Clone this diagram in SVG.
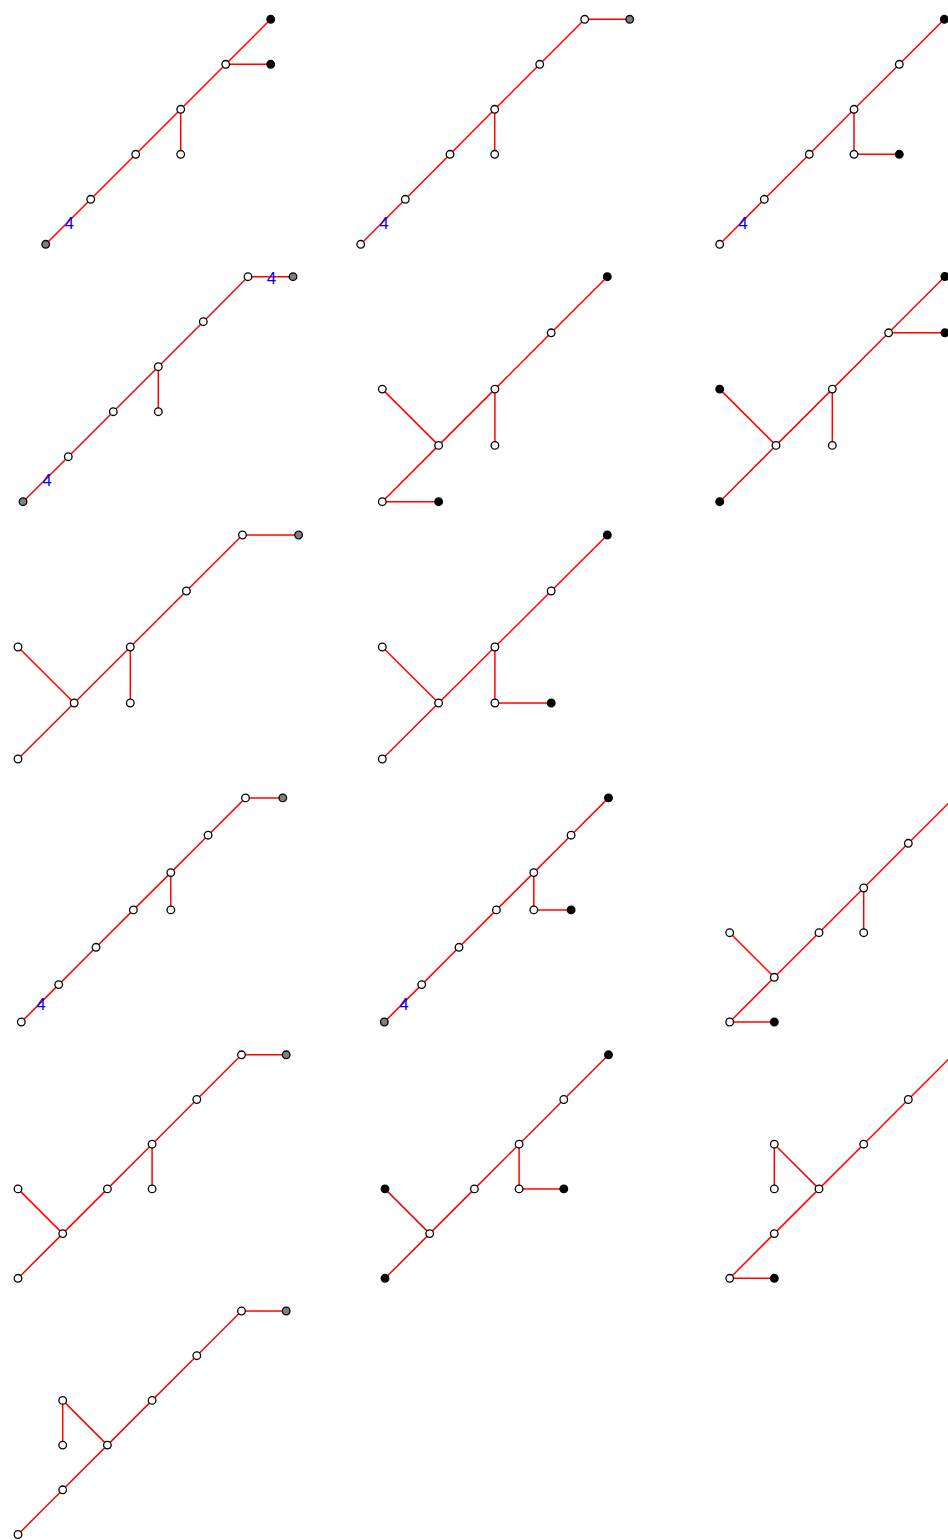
<svg xmlns="http://www.w3.org/2000/svg" width="948" height="1540" viewBox="0 0 948 1540">
<style>
line{stroke:#ff0000;stroke-width:1.5;fill:none}
circle{r:3.8px;stroke:#000;stroke-width:1.3}
.w{fill:#fff}
.b{fill:#000}
.g{fill:#808080}
text{font-family:"Liberation Sans",Arial,sans-serif;font-size:17px;fill:#0000ff;text-anchor:middle;dominant-baseline:central}
</style>
<rect width="948" height="1540" fill="#fff"/>

<g id="d1">
<g id="d1-edges">
<line x1="45.7" y1="244.3" x2="90.7" y2="199.3"/><line x1="90.7" y1="199.3" x2="135.7" y2="154.3"/><line x1="135.7" y1="154.3" x2="180.7" y2="109.3"/><line x1="180.7" y1="109.3" x2="180.7" y2="154.3"/><line x1="180.7" y1="109.3" x2="225.7" y2="64.3"/><line x1="225.7" y1="64.3" x2="270.7" y2="64.3"/><line x1="225.7" y1="64.3" x2="270.7" y2="19.3"/>
</g>
<text x="69.2" y="223.3">4</text>
<circle id="d1-n1" class="g" cx="45.7" cy="244.3"/><circle id="d1-n2" class="w" cx="90.7" cy="199.3"/><circle id="d1-n3" class="w" cx="135.7" cy="154.3"/><circle id="d1-n4" class="w" cx="180.7" cy="109.3"/><circle id="d1-n5" class="w" cx="180.7" cy="154.3"/><circle id="d1-n6" class="w" cx="225.7" cy="64.3"/><circle id="d1-n7" class="b" cx="270.7" cy="64.3"/><circle id="d1-n8" class="b" cx="270.7" cy="19.3"/>
</g>

<g id="d2">
<g id="d2-edges">
<line x1="360.7" y1="244.3" x2="405.3" y2="199.3"/><line x1="405.3" y1="199.3" x2="450" y2="154.3"/><line x1="450" y1="154.3" x2="494.7" y2="109.3"/><line x1="494.7" y1="109.3" x2="494.7" y2="154.3"/><line x1="494.7" y1="109.3" x2="539.7" y2="64.3"/><line x1="539.7" y1="64.3" x2="584.7" y2="19.3"/><line x1="584.7" y1="19.3" x2="629.7" y2="19.3"/>
</g>
<text x="384" y="223.3">4</text>
<circle id="d2-n1" class="w" cx="360.7" cy="244.3"/><circle id="d2-n2" class="w" cx="405.3" cy="199.3"/><circle id="d2-n3" class="w" cx="450" cy="154.3"/><circle id="d2-n4" class="w" cx="494.7" cy="109.3"/><circle id="d2-n5" class="w" cx="494.7" cy="154.3"/><circle id="d2-n6" class="w" cx="539.7" cy="64.3"/><circle id="d2-n7" class="w" cx="584.7" cy="19.3"/><circle id="d2-n8" class="g" cx="629.7" cy="19.3"/>
</g>

<g id="d3">
<g id="d3-edges">
<line x1="719.7" y1="244.3" x2="764.3" y2="199.3"/><line x1="764.3" y1="199.3" x2="809.3" y2="154.3"/><line x1="809.3" y1="154.3" x2="854" y2="109.3"/><line x1="854" y1="109.3" x2="854" y2="154.3"/><line x1="854" y1="154.3" x2="899.3" y2="154.3"/><line x1="854" y1="109.3" x2="899.3" y2="64.3"/><line x1="899.3" y1="64.3" x2="944.3" y2="19.3"/>
</g>
<text x="743" y="223.3">4</text>
<circle id="d3-n1" class="w" cx="719.7" cy="244.3"/><circle id="d3-n2" class="w" cx="764.3" cy="199.3"/><circle id="d3-n3" class="w" cx="809.3" cy="154.3"/><circle id="d3-n4" class="w" cx="854" cy="109.3"/><circle id="d3-n5" class="w" cx="854" cy="154.3"/><circle id="d3-n6" class="b" cx="899.3" cy="154.3"/><circle id="d3-n7" class="w" cx="899.3" cy="64.3"/><circle id="d3-n8" class="b" cx="944.3" cy="19.3"/>
</g>

<g id="d4">
<g id="d4-edges">
<line x1="23" y1="501.7" x2="68.3" y2="456.7"/><line x1="68.3" y1="456.7" x2="113.3" y2="411.7"/><line x1="113.3" y1="411.7" x2="158.3" y2="366.7"/><line x1="158.3" y1="366.7" x2="158.3" y2="411.7"/><line x1="158.3" y1="366.7" x2="203.3" y2="321.7"/><line x1="203.3" y1="321.7" x2="248" y2="276.7"/><line x1="248" y1="276.7" x2="293" y2="276.7"/>
</g>
<text x="47" y="480.7">4</text>
<text x="271.5" y="278">4</text>
<circle id="d4-n1" class="g" cx="23" cy="501.7"/><circle id="d4-n2" class="w" cx="68.3" cy="456.7"/><circle id="d4-n3" class="w" cx="113.3" cy="411.7"/><circle id="d4-n4" class="w" cx="158.3" cy="366.7"/><circle id="d4-n5" class="w" cx="158.3" cy="411.7"/><circle id="d4-n6" class="w" cx="203.3" cy="321.7"/><circle id="d4-n7" class="w" cx="248" cy="276.7"/><circle id="d4-n8" class="g" cx="293" cy="276.7"/>
</g>

<g id="d5">
<g id="d5-edges">
<line x1="382.3" y1="501.7" x2="438.6" y2="501.7"/><line x1="382.3" y1="501.7" x2="438.6" y2="445.4"/><line x1="438.6" y1="445.4" x2="382.3" y2="389.1"/><line x1="438.6" y1="445.4" x2="494.9" y2="389.1"/><line x1="494.9" y1="389.1" x2="494.9" y2="445.4"/><line x1="494.9" y1="389.1" x2="551.2" y2="332.8"/><line x1="551.2" y1="332.8" x2="607.3" y2="276.7"/>
</g>
<circle id="d5-n1" class="w" cx="382.3" cy="501.7"/><circle id="d5-n2" class="b" cx="438.6" cy="501.7"/><circle id="d5-n3" class="w" cx="438.6" cy="445.4"/><circle id="d5-n4" class="w" cx="382.3" cy="389.1"/><circle id="d5-n5" class="w" cx="494.9" cy="389.1"/><circle id="d5-n6" class="w" cx="494.9" cy="445.4"/><circle id="d5-n7" class="w" cx="551.2" cy="332.8"/><circle id="d5-n8" class="b" cx="607.3" cy="276.7"/>
</g>

<g id="d6">
<g id="d6-edges">
<line x1="719.7" y1="501.7" x2="776" y2="445.4"/><line x1="776" y1="445.4" x2="719.7" y2="389.1"/><line x1="776" y1="445.4" x2="832.3" y2="389.1"/><line x1="832.3" y1="389.1" x2="832.3" y2="445.4"/><line x1="832.3" y1="389.1" x2="888.6" y2="332.8"/><line x1="888.6" y1="332.8" x2="944.9" y2="332.8"/><line x1="888.6" y1="332.8" x2="944.9" y2="276.5"/>
</g>
<circle id="d6-n1" class="b" cx="719.7" cy="501.7"/><circle id="d6-n2" class="w" cx="776" cy="445.4"/><circle id="d6-n3" class="b" cx="719.7" cy="389.1"/><circle id="d6-n4" class="w" cx="832.3" cy="389.1"/><circle id="d6-n5" class="w" cx="832.3" cy="445.4"/><circle id="d6-n6" class="w" cx="888.6" cy="332.8"/><circle id="d6-n7" class="b" cx="944.9" cy="332.8"/><circle id="d6-n8" class="b" cx="944.9" cy="276.5"/>
</g>

<g id="d7">
<g id="d7-edges">
<line x1="18" y1="759" x2="74.2" y2="703"/><line x1="74.2" y1="703" x2="18" y2="647"/><line x1="74.2" y1="703" x2="130.3" y2="647"/><line x1="130.3" y1="647" x2="130.3" y2="703"/><line x1="130.3" y1="647" x2="186.4" y2="591"/><line x1="186.4" y1="591" x2="242.5" y2="535"/><line x1="242.5" y1="535" x2="298.6" y2="535"/>
</g>
<circle id="d7-n1" class="w" cx="18" cy="759"/><circle id="d7-n2" class="w" cx="74.2" cy="703"/><circle id="d7-n3" class="w" cx="18" cy="647"/><circle id="d7-n4" class="w" cx="130.3" cy="647"/><circle id="d7-n5" class="w" cx="130.3" cy="703"/><circle id="d7-n6" class="w" cx="186.4" cy="591"/><circle id="d7-n7" class="w" cx="242.5" cy="535"/><circle id="d7-n8" class="g" cx="298.6" cy="535"/>
</g>

<g id="d8">
<g id="d8-edges">
<line x1="382.3" y1="759" x2="438.6" y2="703"/><line x1="438.6" y1="703" x2="382.3" y2="647"/><line x1="438.6" y1="703" x2="494.9" y2="647"/><line x1="494.9" y1="647" x2="494.9" y2="703"/><line x1="494.9" y1="703" x2="551.2" y2="703"/><line x1="494.9" y1="647" x2="551.2" y2="591"/><line x1="551.2" y1="591" x2="607.3" y2="535"/>
</g>
<circle id="d8-n1" class="w" cx="382.3" cy="759"/><circle id="d8-n2" class="w" cx="438.6" cy="703"/><circle id="d8-n3" class="w" cx="382.3" cy="647"/><circle id="d8-n4" class="w" cx="494.9" cy="647"/><circle id="d8-n5" class="w" cx="494.9" cy="703"/><circle id="d8-n6" class="b" cx="551.2" cy="703"/><circle id="d8-n7" class="w" cx="551.2" cy="591"/><circle id="d8-n8" class="b" cx="607.3" cy="535"/>
</g>

<g id="d9">
<g id="d9-edges">
<line x1="21.3" y1="1022" x2="58.7" y2="984.6"/><line x1="58.7" y1="984.6" x2="96" y2="947.3"/><line x1="96" y1="947.3" x2="133.4" y2="909.9"/><line x1="133.4" y1="909.9" x2="170.8" y2="872.6"/><line x1="170.8" y1="872.6" x2="170.8" y2="909.9"/><line x1="170.8" y1="872.6" x2="208.1" y2="835.2"/><line x1="208.1" y1="835.2" x2="245.5" y2="797.9"/><line x1="245.5" y1="797.9" x2="282.8" y2="797.9"/>
</g>
<text x="41" y="1004.8">4</text>
<circle id="d9-n1" class="w" cx="21.3" cy="1022"/><circle id="d9-n2" class="w" cx="58.7" cy="984.6"/><circle id="d9-n3" class="w" cx="96" cy="947.3"/><circle id="d9-n4" class="w" cx="133.4" cy="909.9"/><circle id="d9-n5" class="w" cx="170.8" cy="872.6"/><circle id="d9-n6" class="w" cx="170.8" cy="909.9"/><circle id="d9-n7" class="w" cx="208.1" cy="835.2"/><circle id="d9-n8" class="w" cx="245.5" cy="797.9"/><circle id="d9-n9" class="g" cx="282.8" cy="797.9"/>
</g>

<g id="d10">
<g id="d10-edges">
<line x1="384.3" y1="1022" x2="421.7" y2="984.6"/><line x1="421.7" y1="984.6" x2="459" y2="947.3"/><line x1="459" y1="947.3" x2="496.4" y2="909.9"/><line x1="496.4" y1="909.9" x2="533.8" y2="872.6"/><line x1="533.8" y1="872.6" x2="533.8" y2="909.9"/><line x1="533.8" y1="909.9" x2="571.1" y2="909.9"/><line x1="533.8" y1="872.6" x2="571.1" y2="835.2"/><line x1="571.1" y1="835.2" x2="608.5" y2="797.9"/>
</g>
<text x="404" y="1004.3">4</text>
<circle id="d10-n1" class="g" cx="384.3" cy="1022"/><circle id="d10-n2" class="w" cx="421.7" cy="984.6"/><circle id="d10-n3" class="w" cx="459" cy="947.3"/><circle id="d10-n4" class="w" cx="496.4" cy="909.9"/><circle id="d10-n5" class="w" cx="533.8" cy="872.6"/><circle id="d10-n6" class="w" cx="533.8" cy="909.9"/><circle id="d10-n7" class="b" cx="571.1" cy="909.9"/><circle id="d10-n8" class="w" cx="571.1" cy="835.2"/><circle id="d10-n9" class="b" cx="608.5" cy="797.9"/>
</g>

<g id="d11">
<g id="d11-edges">
<line x1="729.7" y1="1022" x2="774.3" y2="1022"/><line x1="729.7" y1="1022" x2="774.3" y2="977.3"/><line x1="774.3" y1="977.3" x2="729.7" y2="932.7"/><line x1="774.3" y1="977.3" x2="819" y2="932.7"/><line x1="819" y1="932.7" x2="863.7" y2="888"/><line x1="863.7" y1="888" x2="863.7" y2="932.7"/><line x1="863.7" y1="888" x2="908.3" y2="843.3"/><line x1="908.3" y1="843.3" x2="953" y2="798.7"/>
</g>
<circle id="d11-n1" class="w" cx="729.7" cy="1022"/><circle id="d11-n2" class="b" cx="774.3" cy="1022"/><circle id="d11-n3" class="w" cx="774.3" cy="977.3"/><circle id="d11-n4" class="w" cx="729.7" cy="932.7"/><circle id="d11-n5" class="w" cx="819" cy="932.7"/><circle id="d11-n6" class="w" cx="863.7" cy="888"/><circle id="d11-n7" class="w" cx="863.7" cy="932.7"/><circle id="d11-n8" class="w" cx="908.3" cy="843.3"/>
</g>

<g id="d12">
<g id="d12-edges">
<line x1="18" y1="1278.3" x2="62.7" y2="1233.6"/><line x1="62.7" y1="1233.6" x2="18" y2="1188.9"/><line x1="62.7" y1="1233.6" x2="107.4" y2="1188.9"/><line x1="107.4" y1="1188.9" x2="152.1" y2="1144.2"/><line x1="152.1" y1="1144.2" x2="152.1" y2="1188.9"/><line x1="152.1" y1="1144.2" x2="196.8" y2="1099.5"/><line x1="196.8" y1="1099.5" x2="241.5" y2="1054.8"/><line x1="241.5" y1="1054.8" x2="286.2" y2="1054.8"/>
</g>
<circle id="d12-n1" class="w" cx="18" cy="1278.3"/><circle id="d12-n2" class="w" cx="62.7" cy="1233.6"/><circle id="d12-n3" class="w" cx="18" cy="1188.9"/><circle id="d12-n4" class="w" cx="107.4" cy="1188.9"/><circle id="d12-n5" class="w" cx="152.1" cy="1144.2"/><circle id="d12-n6" class="w" cx="152.1" cy="1188.9"/><circle id="d12-n7" class="w" cx="196.8" cy="1099.5"/><circle id="d12-n8" class="w" cx="241.5" cy="1054.8"/><circle id="d12-n9" class="g" cx="286.2" cy="1054.8"/>
</g>

<g id="d13">
<g id="d13-edges">
<line x1="385" y1="1278.3" x2="429.7" y2="1233.6"/><line x1="429.7" y1="1233.6" x2="385" y2="1188.9"/><line x1="429.7" y1="1233.6" x2="474.4" y2="1188.9"/><line x1="474.4" y1="1188.9" x2="519.1" y2="1144.2"/><line x1="519.1" y1="1144.2" x2="519.1" y2="1188.9"/><line x1="519.1" y1="1188.9" x2="563.8" y2="1188.9"/><line x1="519.1" y1="1144.2" x2="563.8" y2="1099.5"/><line x1="563.8" y1="1099.5" x2="608.5" y2="1054.8"/>
</g>
<circle id="d13-n1" class="b" cx="385" cy="1278.3"/><circle id="d13-n2" class="w" cx="429.7" cy="1233.6"/><circle id="d13-n3" class="b" cx="385" cy="1188.9"/><circle id="d13-n4" class="w" cx="474.4" cy="1188.9"/><circle id="d13-n5" class="w" cx="519.1" cy="1144.2"/><circle id="d13-n6" class="w" cx="519.1" cy="1188.9"/><circle id="d13-n7" class="b" cx="563.8" cy="1188.9"/><circle id="d13-n8" class="w" cx="563.8" cy="1099.5"/><circle id="d13-n9" class="b" cx="608.5" cy="1054.8"/>
</g>

<g id="d14">
<g id="d14-edges">
<line x1="729.7" y1="1278.3" x2="774.3" y2="1278.3"/><line x1="729.7" y1="1278.3" x2="774.3" y2="1233.6"/><line x1="774.3" y1="1233.6" x2="819" y2="1188.9"/><line x1="819" y1="1188.9" x2="774.3" y2="1144.2"/><line x1="774.3" y1="1144.2" x2="774.3" y2="1188.9"/><line x1="819" y1="1188.9" x2="863.7" y2="1144.2"/><line x1="863.7" y1="1144.2" x2="908.3" y2="1099.5"/><line x1="908.3" y1="1099.5" x2="953" y2="1054.8"/>
</g>
<circle id="d14-n1" class="w" cx="729.7" cy="1278.3"/><circle id="d14-n2" class="b" cx="774.3" cy="1278.3"/><circle id="d14-n3" class="w" cx="774.3" cy="1233.6"/><circle id="d14-n4" class="w" cx="819" cy="1188.9"/><circle id="d14-n5" class="w" cx="774.3" cy="1144.2"/><circle id="d14-n6" class="w" cx="774.3" cy="1188.9"/><circle id="d14-n7" class="w" cx="863.7" cy="1144.2"/><circle id="d14-n8" class="w" cx="908.3" cy="1099.5"/>
</g>

<g id="d15">
<g id="d15-edges">
<line x1="18" y1="1534.5" x2="62.7" y2="1489.8"/><line x1="62.7" y1="1489.8" x2="107.4" y2="1445.1"/><line x1="107.4" y1="1445.1" x2="62.7" y2="1400.4"/><line x1="62.7" y1="1400.4" x2="62.7" y2="1445.1"/><line x1="107.4" y1="1445.1" x2="152.1" y2="1400.4"/><line x1="152.1" y1="1400.4" x2="196.8" y2="1355.7"/><line x1="196.8" y1="1355.7" x2="241.5" y2="1311"/><line x1="241.5" y1="1311" x2="286.2" y2="1311"/>
</g>
<circle id="d15-n1" class="w" cx="18" cy="1534.5"/><circle id="d15-n2" class="w" cx="62.7" cy="1489.8"/><circle id="d15-n3" class="w" cx="107.4" cy="1445.1"/><circle id="d15-n4" class="w" cx="62.7" cy="1400.4"/><circle id="d15-n5" class="w" cx="62.7" cy="1445.1"/><circle id="d15-n6" class="w" cx="152.1" cy="1400.4"/><circle id="d15-n7" class="w" cx="196.8" cy="1355.7"/><circle id="d15-n8" class="w" cx="241.5" cy="1311"/><circle id="d15-n9" class="g" cx="286.2" cy="1311"/>
</g>
</svg>
